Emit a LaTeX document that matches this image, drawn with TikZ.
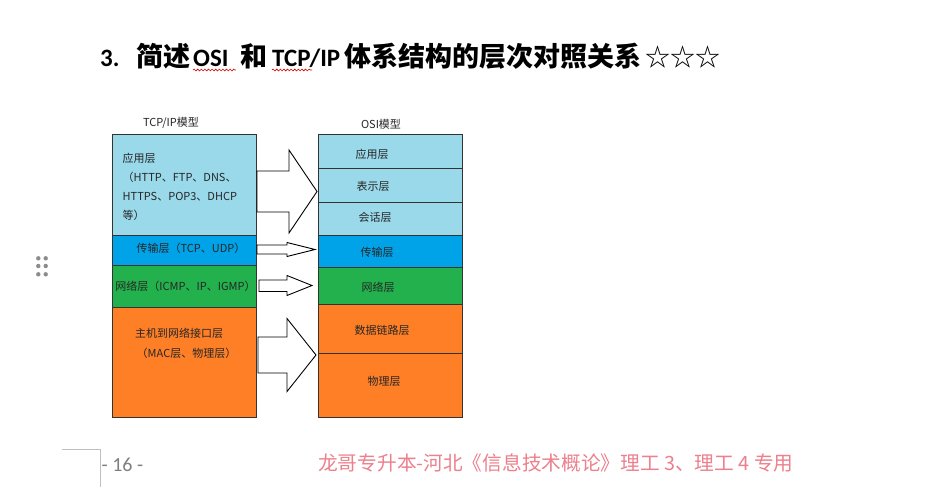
\documentclass[tikz,border=0pt]{standalone}
\usepackage{fontspec}
\setmainfont{Carlito}
\newfontfamily\cjk{Noto Sans CJK SC}
\usetikzlibrary{decorations.pathmorphing}
\definecolor{lb}{HTML}{99D9EA}
\definecolor{bl}{HTML}{00A2E8}
\definecolor{gr}{HTML}{22B14C}
\definecolor{orc}{HTML}{FF7F27}
\definecolor{edgec}{HTML}{333333}
\definecolor{txtc}{HTML}{262626}
\definecolor{pinkc}{RGB}{236,128,140}
\definecolor{pagec}{HTML}{7F7F7F}
\definecolor{linec}{HTML}{BFBFBF}
\begin{document}
\begin{tikzpicture}[x=1pt,y=-1pt,
  lay/.style={draw=edgec, line width=1pt, inner sep=0pt, minimum width=144pt},
  txt/.style={inner sep=0pt, text=txtc, font=\cjk\fontsize{11}{13}\selectfont},
  ttl/.style={inner sep=0pt, anchor=base west, font=\bfseries\fontsize{25}{30}\selectfont},
  ttlc/.style={inner sep=0pt, anchor=base west, font=\cjk\bfseries\fontsize{27}{30}\selectfont},
  blockarrow/.style={draw=black, line width=0.9pt, fill=white, line join=miter},
  squig/.style={draw=red!85!black, line width=0.6pt, decorate, decoration={snake, amplitude=0.9pt, segment length=3.6pt}},
  dot/.style={circle, fill=pagec!90, inner sep=0pt, minimum size=4.4pt}
]
\useasboundingbox (0,0) rectangle (937,498);
\fill[white] (0,0) rectangle (937,498);

% title
\node[ttl] (t1) at (100,66.5) {3.};
\node[ttlc] (t2) at (136,66.5) {简述};
\node[ttl] (osi) at (193,66.5) {OSI};
\node[ttlc] (t3) at (240,66.5) {和};
\node[ttl] (tcpip) at (272,66.5) {TCP/IP};
\node[ttlc] (t4) at (344.5,66.5) {体系结构的层次对照关系};
\node[inner sep=0pt, anchor=base west, font=\cjk\fontsize{25}{30}\selectfont] (stars) at (645,66.5) {☆☆☆};
\draw[squig] ([yshift=-3.5pt]osi.base west) -- ([yshift=-3.5pt,xshift=7pt]osi.base east);
\draw[squig] ([yshift=-3.5pt]tcpip.base west) -- ++(40,0);

% drag handle dots
\foreach \i/\x/\y in {1/38.3/258.3,2/45.7/258.3,3/38.3/266,4/45.7/266,5/38.3/274.3,6/45.7/274.3}
  \node[dot] (d\i) at (\x,\y) {};

% model captions
\node[txt] (capL) at (171,123) {TCP/IP模型};
\node[txt] (capR) at (381,124) {OSI模型};

% left column
\node[lay, fill=lb, minimum height=101pt] (appL) at (184,184.5) {};
\node[lay, fill=bl, minimum height=30pt] (traL) at (184,250) {};
\node[lay, fill=gr, minimum height=42pt] (netL) at (184,286) {};
\node[lay, fill=orc, minimum height=110pt] (hostL) at (184,362) {};

% right column
\node[lay, fill=lb, minimum height=34pt] (appR) at (390,151) {};
\node[lay, fill=lb, minimum height=34pt] (preR) at (390,185) {};
\node[lay, fill=lb, minimum height=33pt] (sesR) at (390,218.5) {};
\node[lay, fill=bl, minimum height=32pt] (traR) at (390,251) {};
\node[lay, fill=gr, minimum height=37pt] (netR) at (390,285.5) {};
\node[lay, fill=orc, minimum height=49pt] (dlR) at (390,328.5) {};
\node[lay, fill=orc, minimum height=64pt] (phyR) at (390,385) {};

% left texts
\node[txt, anchor=base west] (appL1) at (122.5,162) {应用层};
\node[txt, anchor=base west] (appL2) at (122.5,181) {（HTTP、FTP、DNS、};
\node[txt, anchor=base west] (appL3) at (122.5,200) {HTTPS、POP3、DHCP};
\node[txt, anchor=base west] (appL4) at (122.5,219) {等）};
\node[txt] (traLt) at (191,248) {传输层（TCP、UDP）};
\node[txt] (netLt) at (185.5,286) {网络层（ICMP、IP、IGMP）};
\node[txt] (hostL1) at (179,333) {主机到网络接口层};
\node[txt] (hostL2) at (186.5,353) {（MAC层、物理层）};

% right texts
\node[txt] (appRt) at (372,154) {应用层};
\node[txt] (preRt) at (373,186) {表示层};
\node[txt] (sesRt) at (375,217) {会话层};
\node[txt] (traRt) at (377,252) {传输层};
\node[txt] (netRt) at (378,287) {网络层};
\node[txt] (dlRt) at (382,330) {数据链路层};
\node[txt] (phyRt) at (384,381) {物理层};

% block arrows
\draw[blockarrow] (257,171) -- (289,171) -- (289,150) -- (317,191.5) -- (289,233) -- (289,212) -- (257,212) -- cycle;
\draw[blockarrow] (257,245) -- (287,245) -- (287,242.5) -- (315,249.5) -- (287,256.5) -- (287,254) -- (257,254) -- cycle;
\draw[blockarrow] (259,280) -- (287,280) -- (287,275.5) -- (312,285.5) -- (287,295.5) -- (287,291.5) -- (259,291.5) -- cycle;
\draw[blockarrow] (258,337) -- (287,337) -- (287,318.5) -- (316,355) -- (287,391.5) -- (287,373) -- (258,373) -- cycle;

% footer
\coordinate (fa) at (62,449);
\coordinate (fb) at (100,449);
\coordinate (fc) at (100,487);
\draw[linec, line width=0.8pt] (fa) -- (fb) -- (fc);
\node[inner sep=0pt, anchor=base west, text=pagec, font=\fontsize{20}{24}\selectfont] (page) at (101.5,471) {- 16 -};
\node[inner sep=0pt, anchor=base west, text=pinkc, font=\cjk\fontsize{19.7}{24}\selectfont] (foot) at (318,470.5) {龙哥专升本-河北《信息技术概论》理工 3、理工 4 专用};
\end{tikzpicture}
\end{document}
